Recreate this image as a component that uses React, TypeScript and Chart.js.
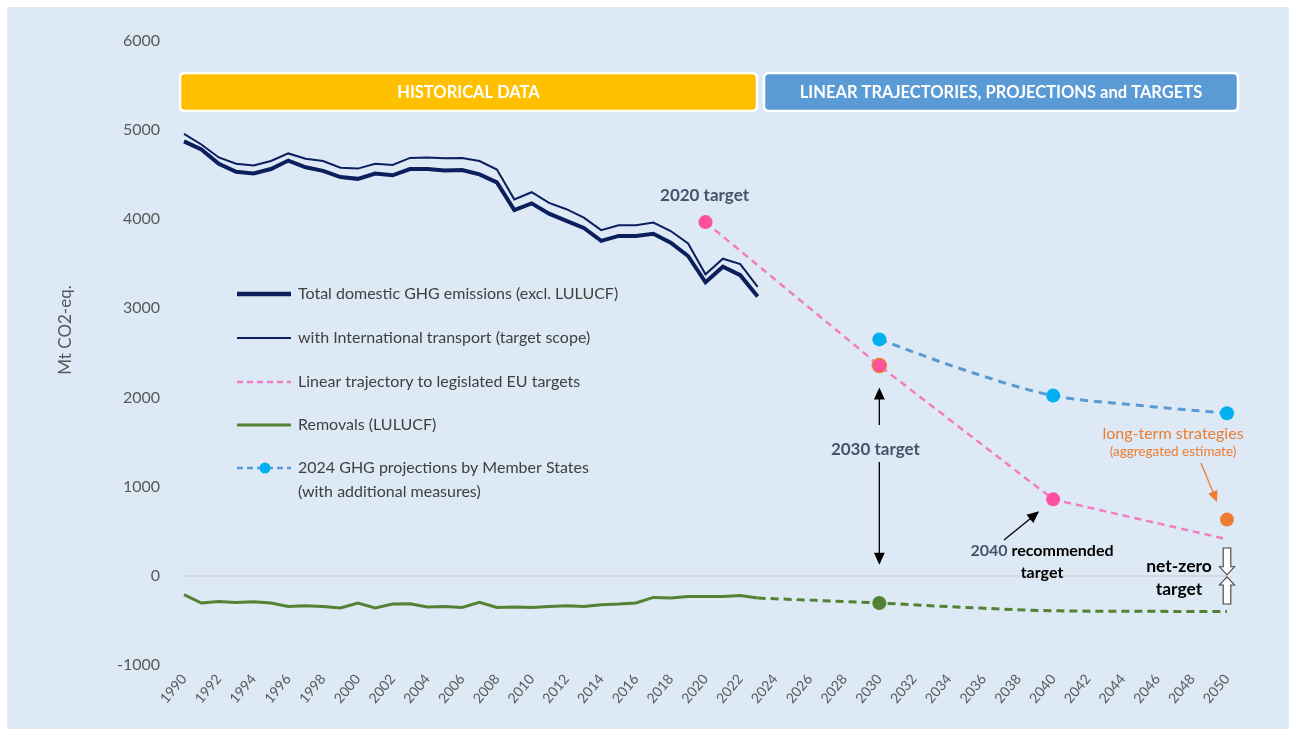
import React, { useEffect, useRef } from "react";
import { Chart, registerables } from "chart.js";

Chart.register(...registerables);

// ---------- DATA ----------
const HIST_YEARS = [1990, 1991, 1992, 1993, 1994, 1995, 1996, 1997, 1998, 1999, 2000, 2001, 2002, 2003, 2004, 2005, 2006, 2007, 2008, 2009, 2010, 2011, 2012, 2013, 2014, 2015, 2016, 2017, 2018, 2019, 2020, 2021, 2022, 2023];
const TOTAL_DOMESTIC = [4870, 4780, 4620, 4530, 4510, 4560, 4655, 4580, 4540, 4470, 4450, 4510, 4490, 4560, 4560, 4545, 4550, 4500, 4410, 4100, 4175, 4060, 3980, 3900, 3755, 3810, 3810, 3835, 3735, 3585, 3290, 3465, 3370, 3130];
const WITH_INTL_TRANSPORT = [4955, 4835, 4690, 4620, 4600, 4650, 4735, 4675, 4650, 4575, 4565, 4620, 4605, 4685, 4690, 4680, 4685, 4650, 4555, 4220, 4300, 4180, 4110, 4015, 3875, 3930, 3930, 3960, 3865, 3725, 3380, 3555, 3495, 3240];
const REMOVALS = [-212, -305, -287, -298, -290, -305, -343, -335, -343, -361, -305, -361, -317, -313, -350, -343, -354, -298, -354, -350, -354, -343, -335, -343, -324, -317, -305, -242, -250, -231, -231, -231, -220, -250];

const TRAJ_YEARS = [2020, 2030, 2040, 2050];
const TRAJ_VALUES = [3965, 2357, 857, 410];

const PROJ_YEARS = [2030, 2035, 2040, 2045, 2050];
const PROJ_VALUES = [2650, 2300, 2020, 1910, 1822];

const REM_PROJ_YEARS = [2023, 2030, 2035, 2040, 2045, 2050];
const REM_PROJ_VALUES = [-250, -305, -355, -392, -398, -400];

const LTS_YEARS = [2050];
const LTS_VALUES = [630];

const Y_MIN = -1000;
const Y_MAX = 6000;
const Y_STEP = 1000;
const X_MIN = 1990;
const X_MAX = 2050;
const X_STEP = 2;

const LEGEND_LABELS = [
  "Total domestic GHG emissions (excl. LULUCF)",
  "with International transport (target scope)",
  "Linear trajectory to legislated EU targets",
  "Removals (LULUCF)",
  "2024 GHG projections by Member States",
  "(with additional measures)",
];

// ---------- STYLE ----------
const NAVY = "#0b1f5c";
const PINK_LINE = "#f47cc3";
const PINK_DOT = "#ff4f9f";
const GREEN = "#548235";
const BLUE_LINE = "#5b9bd5";
const CYAN = "#00b0f0";
const ORANGE = "#ed7d31";
const SLATE = "#44546a";
const TEXT = "#404040";
const AXIS_TEXT = "#595959";
const FONT = "Lato, 'Open Sans', sans-serif";

const OX = 7; // canvas offset in page
const OY = 7;

const pts = (xs: number[], ys: number[]) => xs.map((x, i) => ({ x, y: ys[i] }));

function arrow(ctx: CanvasRenderingContext2D, x1: number, y1: number, x2: number, y2: number, color: string, head = 11, width = 1.3) {
  const a = Math.atan2(y2 - y1, x2 - x1);
  ctx.save();
  ctx.strokeStyle = color;
  ctx.fillStyle = color;
  ctx.lineWidth = width;
  ctx.beginPath();
  ctx.moveTo(x1, y1);
  ctx.lineTo(x2 - Math.cos(a) * head * 0.8, y2 - Math.sin(a) * head * 0.8);
  ctx.stroke();
  ctx.beginPath();
  ctx.moveTo(x2, y2);
  ctx.lineTo(x2 - head * Math.cos(a) + (head * 0.45) * Math.sin(a), y2 - head * Math.sin(a) - (head * 0.45) * Math.cos(a));
  ctx.lineTo(x2 - head * Math.cos(a) - (head * 0.45) * Math.sin(a), y2 - head * Math.sin(a) + (head * 0.45) * Math.cos(a));
  ctx.closePath();
  ctx.fill();
  ctx.restore();
}

function hollowArrow(ctx: CanvasRenderingContext2D, x: number, yTail: number, yTip: number) {
  const dir = yTip > yTail ? 1 : -1;
  const len = Math.abs(yTip - yTail);
  const headLen = len * 0.3;
  const shaft = 3.8;
  const hw = 7.5;
  const yNeck = yTip - dir * headLen;
  ctx.save();
  ctx.fillStyle = "#ffffff";
  ctx.strokeStyle = "#404040";
  ctx.lineWidth = 1.1;
  ctx.beginPath();
  ctx.moveTo(x - shaft, yTail);
  ctx.lineTo(x + shaft, yTail);
  ctx.lineTo(x + shaft, yNeck);
  ctx.lineTo(x + hw, yNeck);
  ctx.lineTo(x, yTip);
  ctx.lineTo(x - hw, yNeck);
  ctx.lineTo(x - shaft, yNeck);
  ctx.closePath();
  ctx.fill();
  ctx.stroke();
  ctx.restore();
}

function roundBox(ctx: CanvasRenderingContext2D, x: number, y: number, w: number, h: number, r: number, fill: string) {
  ctx.save();
  ctx.beginPath();
  ctx.moveTo(x + r, y);
  ctx.lineTo(x + w - r, y);
  ctx.quadraticCurveTo(x + w, y, x + w, y + r);
  ctx.lineTo(x + w, y + h - r);
  ctx.quadraticCurveTo(x + w, y + h, x + w - r, y + h);
  ctx.lineTo(x + r, y + h);
  ctx.quadraticCurveTo(x, y + h, x, y + h - r);
  ctx.lineTo(x, y + r);
  ctx.quadraticCurveTo(x, y, x + r, y);
  ctx.closePath();
  ctx.fillStyle = fill;
  ctx.fill();
  ctx.strokeStyle = "#ffffff";
  ctx.lineWidth = 2.5;
  ctx.stroke();
  ctx.restore();
}

const overlayPlugin = {
  id: "overlay",
  afterDraw(chart: any) {
    const ctx: CanvasRenderingContext2D = chart.ctx;
    const xs = chart.scales.x;
    const ys = chart.scales.y;
    const P = (x: number, y: number) => [x - OX, y - OY];

    // Header boxes
    const [hx1, hy] = P(180, 73);
    const [hx2] = P(757, 73);
    const [bx1] = P(764, 73);
    const [bx2] = P(1238, 73);
    roundBox(ctx, hx1, hy, hx2 - hx1, 38, 5, "#ffc000");
    roundBox(ctx, bx1, hy, bx2 - bx1, 38, 5, "#5b9bd5");
    ctx.save();
    ctx.fillStyle = "#ffffff";
    ctx.textAlign = "center";
    ctx.textBaseline = "middle";
    ctx.font = `bold 16.5px ${FONT}`;
    ctx.fillText("HISTORICAL DATA", (hx1 + hx2) / 2, hy + 20);
    ctx.fillText("LINEAR TRAJECTORIES, PROJECTIONS and TARGETS", (bx1 + bx2) / 2, hy + 20);
    ctx.restore();

    // Y axis title
    ctx.save();
    const [tx, ty] = P(66, 330);
    ctx.translate(tx, ty);
    ctx.rotate(-Math.PI / 2);
    ctx.fillStyle = AXIS_TEXT;
    ctx.font = `17px ${FONT}`;
    ctx.textAlign = "center";
    ctx.textBaseline = "middle";
    ctx.fillText("Mt CO2-eq.", 0, 0);
    ctx.restore();

    // Legend
    const lx1 = 237 - OX, lx2 = 291 - OX, ltx = 298 - OX;
    const rows = [294, 338, 382, 425, 468].map((v) => v - OY);
    ctx.save();
    ctx.lineCap = "butt";
    ctx.strokeStyle = NAVY; ctx.lineWidth = 4.5; ctx.setLineDash([]);
    ctx.beginPath(); ctx.moveTo(lx1, rows[0]); ctx.lineTo(lx2, rows[0]); ctx.stroke();
    ctx.lineWidth = 2;
    ctx.beginPath(); ctx.moveTo(lx1, rows[1]); ctx.lineTo(lx2, rows[1]); ctx.stroke();
    ctx.strokeStyle = PINK_LINE; ctx.lineWidth = 2.5; ctx.setLineDash([6, 4]);
    ctx.beginPath(); ctx.moveTo(lx1, rows[2]); ctx.lineTo(lx2, rows[2]); ctx.stroke();
    ctx.strokeStyle = GREEN; ctx.lineWidth = 3; ctx.setLineDash([]);
    ctx.beginPath(); ctx.moveTo(lx1, rows[3]); ctx.lineTo(lx2, rows[3]); ctx.stroke();
    ctx.strokeStyle = BLUE_LINE; ctx.lineWidth = 2.5; ctx.setLineDash([6, 4]);
    ctx.beginPath(); ctx.moveTo(lx1, rows[4]); ctx.lineTo(lx2, rows[4]); ctx.stroke();
    ctx.setLineDash([]);
    ctx.fillStyle = CYAN;
    ctx.beginPath(); ctx.arc((lx1 + lx2) / 2 + 1, rows[4], 5.5, 0, Math.PI * 2); ctx.fill();
    ctx.fillStyle = TEXT;
    ctx.font = `16px ${FONT}`;
    ctx.textAlign = "left";
    ctx.textBaseline = "middle";
    rows.forEach((r, i) => ctx.fillText(LEGEND_LABELS[i], ltx, r));
    ctx.fillText(LEGEND_LABELS[5], ltx, 492 - OY);
    ctx.restore();

    // Annotations
    const x2020 = xs.getPixelForValue(2020);
    const x2030 = xs.getPixelForValue(2030);
    const x2040 = xs.getPixelForValue(2040);
    const x2050 = xs.getPixelForValue(2050);
    const y0 = ys.getPixelForValue(0);

    ctx.save();
    ctx.textAlign = "center";
    ctx.textBaseline = "middle";
    ctx.fillStyle = SLATE;
    ctx.font = `bold 17px ${FONT}`;
    ctx.fillText("2020 target", x2020 - 1, ys.getPixelForValue(TRAJ_VALUES[0]) - 27);
    ctx.fillText("2030 target", x2030 - 4, 450 - OY);

    arrow(ctx, x2030, 425 - OY, x2030, ys.getPixelForValue(TRAJ_VALUES[1]) + 22, "#000000", 12);
    arrow(ctx, x2030, 462 - OY, x2030, y0 - 11, "#000000", 12);

    ctx.font = `bold 16px ${FONT}`;
    const w2040 = ctx.measureText("2040 ").width;
    const wRec = ctx.measureText("recommended").width;
    const total = w2040 + wRec;
    const cx = 1042 - OX;
    const row1 = 551 - OY;
    ctx.textAlign = "left";
    ctx.fillStyle = SLATE;
    ctx.fillText("2040 ", cx - total / 2, row1);
    ctx.fillStyle = "#000000";
    ctx.fillText("recommended", cx - total / 2 + w2040, row1);
    ctx.textAlign = "center";
    ctx.fillText("target", cx, 573 - OY);
    arrow(ctx, 1004 - OX, 540 - OY, x2040 - 14, ys.getPixelForValue(TRAJ_VALUES[2]) + 12, "#000000", 12);

    ctx.fillStyle = ORANGE;
    ctx.font = `16px ${FONT}`;
    ctx.fillText("long-term strategies", 1173 - OX, 434 - OY);
    ctx.font = `13.5px ${FONT}`;
    ctx.fillText("(aggregated estimate)", 1173 - OX, 452 - OY);
    arrow(ctx, 1201 - OX, 463 - OY, 1217 - OX, 502 - OY, ORANGE, 11);

    ctx.fillStyle = "#000000";
    ctx.font = `bold 17.5px ${FONT}`;
    ctx.fillText("net-zero", 1179 - OX, 566 - OY);
    ctx.fillText("target", 1179 - OX, 589 - OY);
    hollowArrow(ctx, x2050, 548 - OY, y0 - 1);
    hollowArrow(ctx, x2050, 604 - OY, y0 + 1);
    ctx.restore();
  },
};

export default function App() {
  const ref = useRef<HTMLCanvasElement | null>(null);

  useEffect(() => {
    if (!ref.current) return;
    const chart = new Chart(ref.current, {
      type: "line",
      data: {
        datasets: [
          {
            label: "LTS",
            data: pts(LTS_YEARS, LTS_VALUES),
            showLine: false,
            pointRadius: 7,
            pointBackgroundColor: ORANGE,
            pointBorderWidth: 0,
            borderColor: ORANGE,
            clip: false,
          },
          {
            label: "Trajectory",
            data: pts(TRAJ_YEARS, TRAJ_VALUES),
            borderColor: PINK_LINE,
            borderWidth: 2.5,
            borderDash: [7, 5],
            pointRadius: [7, 7, 7, 0],
            pointBackgroundColor: PINK_DOT,
            pointBorderColor: [PINK_DOT, ORANGE, PINK_DOT, PINK_DOT],
            pointBorderWidth: [0, 1.5, 0, 0],
            tension: 0,
            clip: false,
          },
          {
            label: "Projections",
            data: pts(PROJ_YEARS, PROJ_VALUES),
            borderColor: BLUE_LINE,
            borderWidth: 3,
            borderDash: [8, 6],
            pointRadius: [7, 0, 7, 0, 7],
            pointBackgroundColor: CYAN,
            pointBorderWidth: 0,
            cubicInterpolationMode: "monotone",
            clip: false,
          },
          {
            label: "Total domestic",
            data: pts(HIST_YEARS, TOTAL_DOMESTIC),
            borderColor: NAVY,
            borderWidth: 4,
            pointRadius: 0,
            tension: 0,
            clip: false,
          },
          {
            label: "With intl transport",
            data: pts(HIST_YEARS, WITH_INTL_TRANSPORT),
            borderColor: NAVY,
            borderWidth: 2,
            pointRadius: 0,
            tension: 0,
            clip: false,
          },
          {
            label: "Removals",
            data: pts(HIST_YEARS, REMOVALS),
            borderColor: GREEN,
            borderWidth: 3,
            pointRadius: 0,
            tension: 0,
            clip: false,
          },
          {
            label: "Removals projection",
            data: pts(REM_PROJ_YEARS, REM_PROJ_VALUES),
            borderColor: GREEN,
            borderWidth: 3,
            borderDash: [8, 5],
            pointRadius: [0, 7, 0, 0, 0, 0],
            pointBackgroundColor: GREEN,
            pointBorderWidth: 0,
            cubicInterpolationMode: "monotone",
            clip: false,
          },
        ],
      },
      options: {
        animation: false,
        responsive: false,
        maintainAspectRatio: false,
        layout: { padding: { top: 32, right: 62, left: 0, bottom: 0 } },
        plugins: { legend: { display: false }, tooltip: { enabled: false } },
        scales: {
          x: {
            type: "linear",
            min: X_MIN,
            max: X_MAX,
            border: { display: false },
            grid: { display: false, drawTicks: false },
            ticks: {
              stepSize: X_STEP,
              autoSkip: false,
              maxRotation: 50,
              minRotation: 50,
              padding: 6,
              color: AXIS_TEXT,
              font: { family: FONT, size: 14 },
              callback: (v: any) => String(v),
            },
            afterFit: (s: any) => { s.height = 722 - 658; },
          },
          y: {
            min: Y_MIN,
            max: Y_MAX,
            border: { display: false },
            grid: {
              drawTicks: false,
              lineWidth: 2,
              color: (c: any) => (c.tick && c.tick.value === 0 ? "#d4d8dc" : "rgba(0,0,0,0)"),
            },
            ticks: {
              stepSize: Y_STEP,
              padding: 24,
              color: AXIS_TEXT,
              font: { family: FONT, size: 16 },
              callback: (v: any) => String(v),
            },
            afterFit: (s: any) => { s.width = 184 - OX; },
          },
        },
      },
      plugins: [overlayPlugin],
    });
    return () => chart.destroy();
  }, []);

  return (
    <div
      style={{
        position: "fixed",
        left: OX,
        top: OY,
        width: 1282,
        height: 722,
        background: "#dde9f5",
      }}
    >
      <canvas ref={ref} width={1282} height={722} style={{ display: "block" }} />
    </div>
  );
}
